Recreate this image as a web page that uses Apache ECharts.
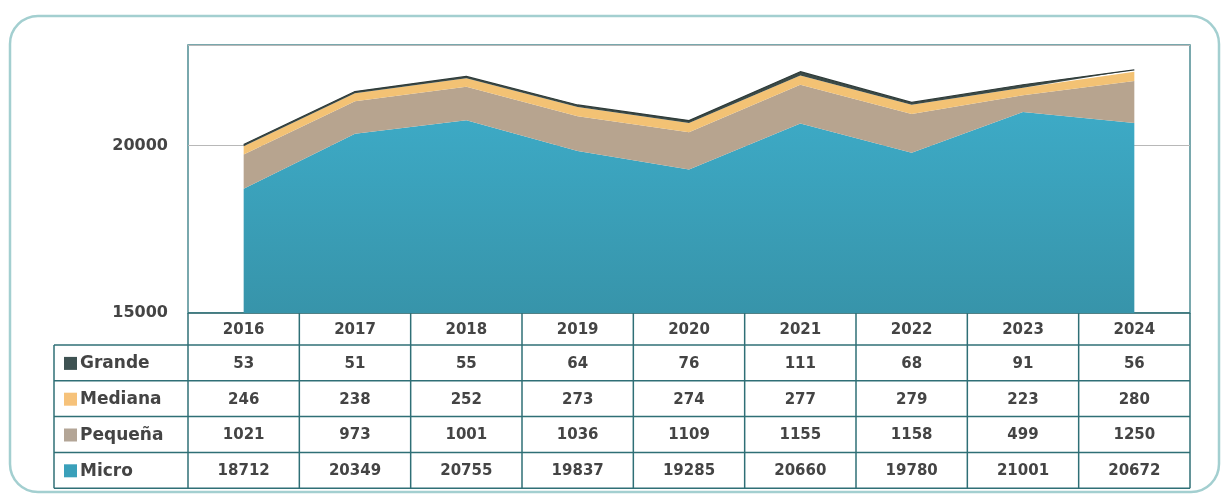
<!DOCTYPE html>
<html>
<head>
<meta charset="utf-8">
<script src="https://cdn.jsdelivr.net/npm/echarts@6/dist/echarts.min.js"></script>
<style>html,body{margin:0;padding:0;background:#fff}#c{width:1223px;height:498px}</style>
</head>
<body>
<div id="c"></div>
<script>
const years = ['2016','2017','2018','2019','2020','2021','2022','2023','2024'];
const grande  = [53, 51, 55, 64, 76, 111, 68, 91, 56];
const mediana = [246, 238, 252, 273, 274, 277, 279, 223, 280];
const pequena = [1021, 973, 1001, 1036, 1109, 1155, 1158, 499, 1250];
const micro   = [18712, 20349, 20755, 19837, 19285, 20660, 19780, 21001, 20672];
const yTicks = { min: 15000, max: 23000, interval: 5000 };

const seriesDefs = [
  { name: 'Micro', data: micro, color: new echarts.graphic.LinearGradient(0,0,0,1,[{offset:0,color:'#3daac6'},{offset:1,color:'#3794aa'}]), swatch: '#3aa0ba' },
  { name: 'Pequeña', data: pequena, color: '#b7a48f', swatch: '#b3a596' },
  { name: 'Mediana', data: mediana, color: '#f3c274', swatch: '#f6c27a' },
  { name: 'Grande', data: grande, color: '#3b4a47', swatch: '#3e5252' }
];
const tableRows = [seriesDefs[3], seriesDefs[2], seriesDefs[1], seriesDefs[0]];

const chart = echarts.init(document.getElementById('c'), null, { renderer: 'canvas' });
const FONT = '"DejaVu Sans", sans-serif';

chart.setOption({
  animation: false,
  backgroundColor: '#ffffff',
  grid: { left: 188, right: 33, top: 45, bottom: 185, show: true, borderColor: '#4e8c92', borderWidth: 1.5, backgroundColor: 'transparent' },
  xAxis: {
    type: 'category', data: years, boundaryGap: true,
    axisLine: { show: false }, axisTick: { show: false }, axisLabel: { show: false }
  },
  yAxis: {
    type: 'value', min: yTicks.min, max: yTicks.max, interval: yTicks.interval,
    axisLine: { show: false }, axisTick: { show: false },
    axisLabel: { showMaxLabel: false, margin: 20, color: '#444', fontSize: 16, fontWeight: 'bold', fontFamily: FONT, formatter: v => String(v) },
    splitLine: { show: true, lineStyle: { color: '#b8b8b8', width: 1 } }
  },
  series: seriesDefs.map(s => ({
    name: s.name, type: 'line', stack: 'total', data: s.data,
    symbol: 'none', smooth: false,
    lineStyle: s.name === 'Grande' ? { width: 1.2, color: '#2f3b39' } : { width: 0 },
    areaStyle: { color: s.color, opacity: 1 },
    itemStyle: { color: s.swatch }
  }))
});

function buildTable() {
  const c0 = chart.convertToPixel({ xAxisIndex: 0 }, years[0]);
  const c1 = chart.convertToPixel({ xAxisIndex: 0 }, years[1]);
  const bw = c1 - c0;
  const x0 = c0 - bw / 2;
  const xEnd = x0 + bw * years.length;
  const yTop = chart.convertToPixel({ yAxisIndex: 0 }, yTicks.min);
  const headerH = 32;
  const rowH = 35.8;
  const labelLeft = 54;
  const rowsTop = yTop + headerH;
  const yBottom = rowsTop + rowH * tableRows.length;
  const lineStyle = { stroke: '#2f6f76', lineWidth: 1.5 };
  const els = [];

  els.push({ type: 'rect', silent: true, z: -10, shape: { x: 10, y: 16, width: 1209, height: 476, r: 28 }, style: { fill: 'none', stroke: '#a3cfd0', lineWidth: 2.5 } });

  els.push({ type: 'line', shape: { x1: x0, y1: yTop, x2: xEnd, y2: yTop }, style: lineStyle });
  for (let r = 0; r <= tableRows.length; r++) {
    const y = rowsTop + rowH * r;
    els.push({ type: 'line', shape: { x1: labelLeft, y1: y, x2: xEnd, y2: y }, style: lineStyle });
  }
  els.push({ type: 'line', shape: { x1: labelLeft, y1: rowsTop, x2: labelLeft, y2: yBottom }, style: lineStyle });
  for (let i = 0; i <= years.length; i++) {
    const x = x0 + bw * i;
    els.push({ type: 'line', shape: { x1: x, y1: yTop, x2: x, y2: yBottom }, style: lineStyle });
  }
  years.forEach((yr, i) => {
    els.push({ type: 'text', style: { x: x0 + bw * (i + 0.5), y: yTop + headerH / 2 + 1, text: yr, align: 'center', verticalAlign: 'middle', fill: '#444', font: 'bold 15px ' + FONT } });
  });
  tableRows.forEach((s, r) => {
    const cy = rowsTop + rowH * (r + 0.5);
    els.push({ type: 'rect', shape: { x: 64, y: cy - 6, width: 13, height: 13 }, style: { fill: s.swatch } });
    els.push({ type: 'text', style: { x: 80, y: cy + 1, text: s.name, align: 'left', verticalAlign: 'middle', fill: '#444', font: 'bold 17px ' + FONT } });
    s.data.forEach((v, i) => {
      els.push({ type: 'text', style: { x: x0 + bw * (i + 0.5), y: cy + 1, text: String(v), align: 'center', verticalAlign: 'middle', fill: '#444', font: 'bold 15px ' + FONT } });
    });
  });
  chart.setOption({ graphic: { elements: els } });
}
buildTable();
</script>
</body>
</html>
